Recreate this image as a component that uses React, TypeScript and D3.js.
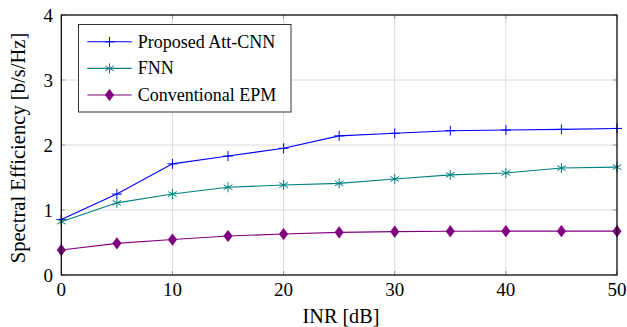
import React from "react";
import * as d3 from "d3";

const inr = [0, 5, 10, 15, 20, 25, 30, 35, 40, 45, 50];
const attCnn = [0.855, 1.245, 1.71, 1.83, 1.95, 2.14, 2.18, 2.22, 2.23, 2.24, 2.255];
const fnn = [0.82, 1.11, 1.245, 1.35, 1.385, 1.41, 1.477, 1.54, 1.57, 1.645, 1.66];
const epm = [0.385, 0.487, 0.545, 0.6, 0.63, 0.656, 0.667, 0.672, 0.675, 0.675, 0.675];
const xTicks = [0, 10, 20, 30, 40, 50];
const yTicks = [0, 1, 2, 3, 4];
const seriesNames = ["Proposed Att-CNN", "FNN", "Conventional EPM"];
const colors = ["#0000ff", "#008080", "#800080"];

const W = 627, H = 327;
const L = 61.3, R = 617, T = 15, B = 275;
const font = "'Liberation Serif', 'Times New Roman', serif";

function Marker({ type, x, y, color }: { type: string; x: number; y: number; color: string }) {
  if (type === "plus") {
    return <path d={`M${x - 5},${y}H${x + 5}M${x},${y - 5}V${y + 5}`} stroke={color} strokeWidth={1} fill="none" />;
  }
  if (type === "star") {
    const r = 5;
    const segs = [0, 60, 120].map((a) => {
      const rad = ((a + 90) * Math.PI) / 180;
      const dx = r * Math.cos(rad), dy = r * Math.sin(rad);
      return `M${x - dx},${y - dy}L${x + dx},${y + dy}`;
    });
    return <path d={segs.join("")} stroke={color} strokeWidth={1} fill="none" />;
  }
  return <path d={`M${x},${y - 5.8}L${x + 4.3},${y}L${x},${y + 5.8}L${x - 4.3},${y}Z`} fill={color} stroke={color} strokeWidth={0.5} />;
}

export default function App() {
  const x = d3.scaleLinear().domain([0, 50]).range([L, R]);
  const y = d3.scaleLinear().domain([0, 4]).range([B, T]);
  const data = [attCnn, fnn, epm];
  const markers = ["plus", "star", "diamond"];
  const line = d3.line<number>().x((_, i) => x(inr[i])).y((d) => y(d));

  return (
    <svg width={W} height={H} style={{ position: "absolute", left: 0, top: 0, background: "#fff" }}>
      {xTicks.map((t) => (
        <line key={"gx" + t} x1={x(t)} x2={x(t)} y1={T} y2={B} stroke="#d3d3d3" strokeWidth={0.8} />
      ))}
      {yTicks.map((t) => (
        <line key={"gy" + t} x1={L} x2={R} y1={y(t)} y2={y(t)} stroke="#d3d3d3" strokeWidth={0.8} />
      ))}
      {xTicks.map((t) => (
        <g key={"tx" + t}>
          <line x1={x(t)} x2={x(t)} y1={B} y2={B - 4} stroke="#808080" strokeWidth={0.8} />
          <line x1={x(t)} x2={x(t)} y1={T} y2={T + 4} stroke="#808080" strokeWidth={0.8} />
          <text x={x(t)} y={295.5} textAnchor="middle" fontFamily={font} fontSize={19} fill="#000">{t}</text>
        </g>
      ))}
      {yTicks.map((t) => (
        <g key={"ty" + t}>
          <line x1={L} x2={L + 4} y1={y(t)} y2={y(t)} stroke="#808080" strokeWidth={0.8} />
          <line x1={R} x2={R - 4} y1={y(t)} y2={y(t)} stroke="#808080" strokeWidth={0.8} />
          <text x={53} y={y(t) + 6.5} textAnchor="end" fontFamily={font} fontSize={19} fill="#000">{t}</text>
        </g>
      ))}
      {data.map((d, si) => (
        <g key={"s" + si}>
          <path d={line(d) || ""} fill="none" stroke={colors[si]} strokeWidth={1.1} />
          {d.map((v, i) => (
            <Marker key={i} type={markers[si]} x={x(inr[i])} y={y(v)} color={colors[si]} />
          ))}
        </g>
      ))}
      <rect x={L} y={T} width={R - L} height={B - T} fill="none" stroke="#000" strokeWidth={1.2} />
      <rect x={78.5} y={24.5} width={212.5} height={87.5} fill="#fff" stroke="#333" strokeWidth={1} />
      {seriesNames.map((n, i) => {
        const ly = 41.8 + i * 26.6;
        return (
          <g key={"l" + i}>
            <line x1={87.3} x2={131.7} y1={ly} y2={ly} stroke={colors[i]} strokeWidth={1.1} />
            <Marker type={markers[i]} x={109.5} y={ly} color={colors[i]} />
            <text x={137.7} y={ly + 6} fontFamily={font} fontSize={18} fill="#000">{n}</text>
          </g>
        );
      })}
      <text x={341} y={323} textAnchor="middle" fontFamily={font} fontSize={20.2} fill="#000">INR [dB]</text>
      <text transform={`translate(25,148) rotate(-90)`} textAnchor="middle" fontFamily={font} fontSize={20.6} fill="#000">Spectral Efficiency [b/s/Hz]</text>
    </svg>
  );
}
